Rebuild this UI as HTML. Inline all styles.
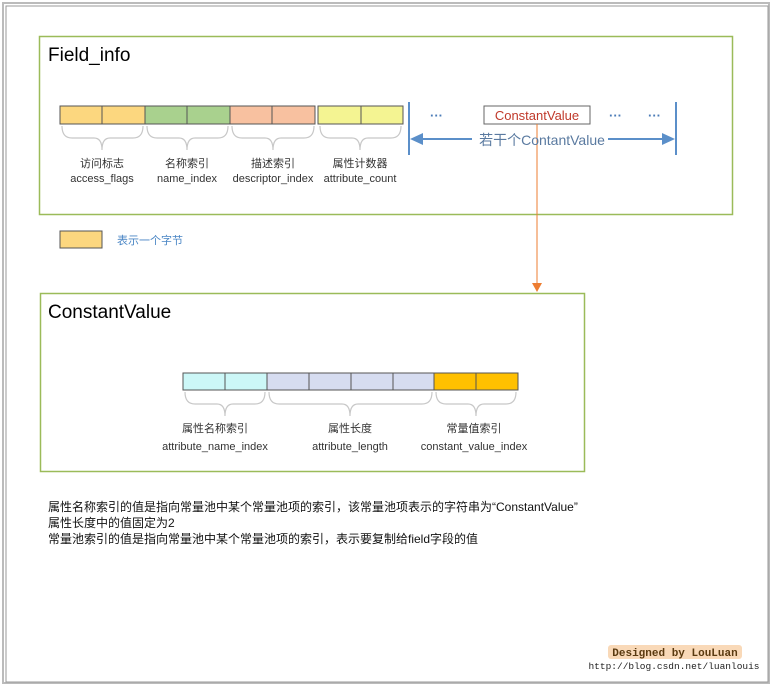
<!DOCTYPE html>
<html><head><meta charset="utf-8"><style>
html,body{margin:0;padding:0;background:#fff;}
svg{display:block;}
text{font-family:"Liberation Sans","Noto Sans CJK SC",sans-serif;}
</style></head><body>
<svg width="775" height="689" viewBox="0 0 775 689" xmlns="http://www.w3.org/2000/svg">
<rect x="0" y="0" width="775" height="689" fill="#fff"/>
<rect x="3" y="3" width="766" height="680" fill="none" stroke="#bbb" stroke-width="2"/>
<rect x="6" y="6" width="762" height="676" fill="none" stroke="#999" stroke-width="1"/>

<rect x="39.5" y="36.5" width="693" height="178" fill="none" stroke="#9bbb59" stroke-width="1.5"/>
<text x="48" y="61" font-size="19" fill="#000">Field_info</text>

<g stroke="#555" stroke-width="1">
<rect x="60" y="106" width="42" height="18" fill="#fcd77f"/>
<rect x="102" y="106" width="43" height="18" fill="#fcd77f"/>
<rect x="145" y="106" width="42" height="18" fill="#a9d18e"/>
<rect x="187" y="106" width="43" height="18" fill="#a9d18e"/>
<rect x="230" y="106" width="42" height="18" fill="#f8c1a0"/>
<rect x="272" y="106" width="43" height="18" fill="#f8c1a0"/>
<rect x="318" y="106" width="43" height="18" fill="#f4f492"/>
<rect x="361" y="106" width="42" height="18" fill="#f4f492"/>
</g>
<g fill="none" stroke="#c8c8c8" stroke-width="1.2">
<path d="M62,126 Q62,138 72,138 L94,138 Q102,138 102,150 Q102,138 110,138 L133,138 Q143,138 143,126"/>
<path d="M147,126 Q147,138 157,138 L179,138 Q187,138 187,150 Q187,138 195,138 L218,138 Q228,138 228,126"/>
<path d="M232,126 Q232,138 242,138 L265,138 Q273,138 273,150 Q273,138 281,138 L304,138 Q314,138 314,126"/>
<path d="M320,126 Q320,138 330,138 L352,138 Q360,138 360,150 Q360,138 368,138 L391,138 Q401,138 401,126"/>
</g>
<g font-size="11" fill="#333" text-anchor="middle">
<text x="102" y="167">访问标志</text><text x="102" y="182">access_flags</text>
<text x="187" y="167">名称索引</text><text x="187" y="182">name_index</text>
<text x="273" y="167">描述索引</text><text x="273" y="182">descriptor_index</text>
<text x="360" y="167">属性计数器</text><text x="360" y="182">attribute_count</text>
</g>

<g font-size="13" fill="#4a7bb7" font-weight="bold">
<text x="430" y="120">···</text><text x="609" y="120">···</text><text x="648" y="120">···</text>
</g>
<rect x="484" y="106" width="106" height="18" fill="#fff" stroke="#666"/>
<text x="537" y="120" font-size="13" fill="#c0392b" text-anchor="middle">ConstantValue</text>
<g stroke="#5b8fc9" stroke-width="2">
<line x1="409" y1="102" x2="409" y2="155"/>
<line x1="676" y1="102" x2="676" y2="155"/>
<line x1="420" y1="139" x2="472" y2="139"/>
<line x1="608" y1="139" x2="664" y2="139"/>
</g>
<polygon points="410,139 423,133 423,145" fill="#5b8fc9"/>
<polygon points="675,139 662,133 662,145" fill="#5b8fc9"/>
<line x1="537" y1="124" x2="537" y2="284" stroke="#ed7d31" stroke-width="1"/>
<text x="542" y="145" font-size="14" fill="#5a7aa0" text-anchor="middle">若干个ContantValue</text>
<polygon points="532,283 542,283 537,292" fill="#ed7d31"/>

<rect x="60" y="231" width="42" height="17" fill="#fcd77f" stroke="#555"/>
<text x="117" y="244" font-size="11" fill="#4a86c5">表示一个字节</text>

<rect x="40.5" y="293.5" width="544" height="178" fill="none" stroke="#9bbb59" stroke-width="1.5"/>
<text x="48" y="318" font-size="19" fill="#000">ConstantValue</text>
<g stroke="#555" stroke-width="1">
<rect x="183" y="373" width="42" height="17" fill="#ccf7f7"/>
<rect x="225" y="373" width="42" height="17" fill="#ccf7f7"/>
<rect x="267" y="373" width="42" height="17" fill="#d6dcf0"/>
<rect x="309" y="373" width="42" height="17" fill="#d6dcf0"/>
<rect x="351" y="373" width="42" height="17" fill="#d6dcf0"/>
<rect x="393" y="373" width="41" height="17" fill="#d6dcf0"/>
<rect x="434" y="373" width="42" height="17" fill="#ffc000"/>
<rect x="476" y="373" width="42" height="17" fill="#ffc000"/>
</g>
<g fill="none" stroke="#c8c8c8" stroke-width="1.2">
<path d="M185,392 Q185,404 195,404 L217,404 Q225,404 225,416 Q225,404 233,404 L255,404 Q265,404 265,392"/>
<path d="M269,392 Q269,404 279,404 L342,404 Q350,404 350,416 Q350,404 358,404 L422,404 Q432,404 432,392"/>
<path d="M436,392 Q436,404 446,404 L468,404 Q476,404 476,416 Q476,404 484,404 L506,404 Q516,404 516,392"/>
</g>
<g font-size="11" fill="#333" text-anchor="middle">
<text x="215" y="432">属性名称索引</text><text x="215" y="450">attribute_name_index</text>
<text x="350" y="432">属性长度</text><text x="350" y="450">attribute_length</text>
<text x="474" y="432">常量值索引</text><text x="474" y="450">constant_value_index</text>
</g>

<g font-size="12" fill="#111">
<text x="48" y="511">属性名称索引的值是指向常量池中某个常量池项的索引，该常量池项表示的字符串为“ConstantValue”</text>
<text x="48" y="527">属性长度中的值固定为2</text>
<text x="48" y="543">常量池索引的值是指向常量池中某个常量池项的索引，表示要复制给field字段的值</text>
</g>

<rect x="608" y="645" width="134" height="14" fill="#f9d9b8" rx="3"/>
<text x="675" y="656" font-size="11" font-weight="bold" fill="#5a3a10" text-anchor="middle" style="font-family:'Liberation Mono',monospace">Designed by LouLuan</text>
<text x="674" y="669" font-size="9.5" fill="#222" text-anchor="middle" style="font-family:'Liberation Mono',monospace">http://blog.csdn.net/luanlouis</text>
</svg>
</body></html>
